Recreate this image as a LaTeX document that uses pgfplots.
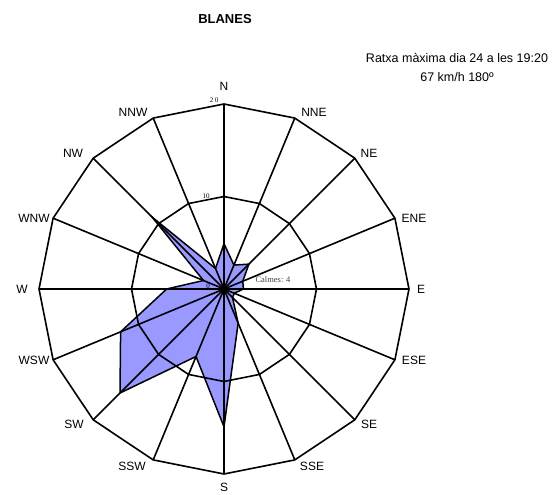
\documentclass[border=0pt]{standalone}
\usepackage{pgfplots}
\pgfplotsset{compat=1.18}
\usepackage{fontspec}
\setmainfont{Liberation Sans}
\newfontfamily\seriffont{Liberation Serif}
\definecolor{rosefill}{RGB}{153,153,255}
\begin{document}
\begin{tikzpicture}
\begin{axis}[
  x=9.25bp, y=9.25bp,
  xmin=-21, xmax=21, ymin=-21, ymax=21,
  hide axis, clip=false,
]
% wind rose data (polar angle, value); polar angle = 90 - compass direction
\addplot[data cs=polar, fill=rosefill, draw=black, line width=1.5bp] coordinates {
(90,4.9) (67.5,2.8) (45,3.8) (22.5,2.2) (0,2.1) (337.5,1.2) (315,1.3) (292.5,4.0)
(270,14.9) (247.5,7.9) (225,15.9) (202.5,12.1) (180,6.2) (157.5,2.4) (135,11.0) (112.5,2.4)
} -- cycle;
% rings
\addplot[data cs=polar, draw=black, line width=1.6bp] coordinates {
(0,20) (22.5,20) (45,20) (67.5,20) (90,20) (112.5,20) (135,20) (157.5,20)
(180,20) (202.5,20) (225,20) (247.5,20) (270,20) (292.5,20) (315,20) (337.5,20)
} -- cycle;
\addplot[data cs=polar, draw=black, line width=1.6bp] coordinates {
(0,10) (22.5,10) (45,10) (67.5,10) (90,10) (112.5,10) (135,10) (157.5,10)
(180,10) (202.5,10) (225,10) (247.5,10) (270,10) (292.5,10) (315,10) (337.5,10)
} -- cycle;
% spokes
\addplot[data cs=polar, draw=black, line width=1.6bp] coordinates {(0,20) (180,20)};
\addplot[data cs=polar, draw=black, line width=1.6bp] coordinates {(22.5,20) (202.5,20)};
\addplot[data cs=polar, draw=black, line width=1.6bp] coordinates {(45,20) (225,20)};
\addplot[data cs=polar, draw=black, line width=1.6bp] coordinates {(67.5,20) (247.5,20)};
\addplot[data cs=polar, draw=black, line width=1.6bp] coordinates {(90,20) (270,20)};
\addplot[data cs=polar, draw=black, line width=1.6bp] coordinates {(112.5,20) (292.5,20)};
\addplot[data cs=polar, draw=black, line width=1.6bp] coordinates {(135,20) (315,20)};
\addplot[data cs=polar, draw=black, line width=1.6bp] coordinates {(157.5,20) (337.5,20)};
\coordinate (C) at (axis cs:0,0);
\end{axis}
\path ([shift={(-224bp,-206bp)}]C) rectangle ([shift={(334bp,289bp)}]C);
\begin{scope}[every node/.style={font=\fontsize{12bp}{14bp}\selectfont, inner sep=0pt}]
\node at ([shift={(0bp,203bp)}]C) {N};
\node at ([shift={(90bp,177bp)}]C) {NNE};
\node at ([shift={(145bp,136bp)}]C) {NE};
\node at ([shift={(190bp,71bp)}]C) {ENE};
\node at ([shift={(197bp,0bp)}]C) {E};
\node at ([shift={(190bp,-71bp)}]C) {ESE};
\node at ([shift={(145bp,-135bp)}]C) {SE};
\node at ([shift={(88bp,-177bp)}]C) {SSE};
\node at ([shift={(0bp,-198bp)}]C) {S};
\node at ([shift={(-92bp,-177bp)}]C) {SSW};
\node at ([shift={(-150bp,-135bp)}]C) {SW};
\node at ([shift={(-190bp,-71bp)}]C) {WSW};
\node at ([shift={(-202bp,0bp)}]C) {W};
\node at ([shift={(-190bp,71bp)}]C) {WNW};
\node at ([shift={(-151bp,136bp)}]C) {NW};
\node at ([shift={(-91bp,177bp)}]C) {NNW};
\node[font=\fontsize{13bp}{15bp}\selectfont\bfseries] at ([shift={(1bp,270bp)}]C) {BLANES};
\node[font=\fontsize{12.5bp}{15bp}\selectfont] at ([shift={(233bp,231bp)}]C) {Ratxa màxima dia 24 a les 19:20};
\node[font=\fontsize{12.5bp}{15bp}\selectfont] at ([shift={(233bp,212bp)}]C) {67 km/h 180º};
\end{scope}
\begin{scope}[every node/.style={font=\seriffont\fontsize{7bp}{8bp}\selectfont, inner sep=0pt}]
\node at ([shift={(-10bp,189bp)}]C) {2\hspace{1.5bp}0};
\node at ([shift={(-18bp,93bp)}]C) {10};
\node at ([shift={(-16bp,3bp)}]C) {0};
\node[font=\seriffont\fontsize{8.5bp}{9bp}\selectfont, text=black!75] at ([shift={(49bp,9bp)}]C) {Calmes: 4};
\end{scope}
\end{tikzpicture}
\end{document}
